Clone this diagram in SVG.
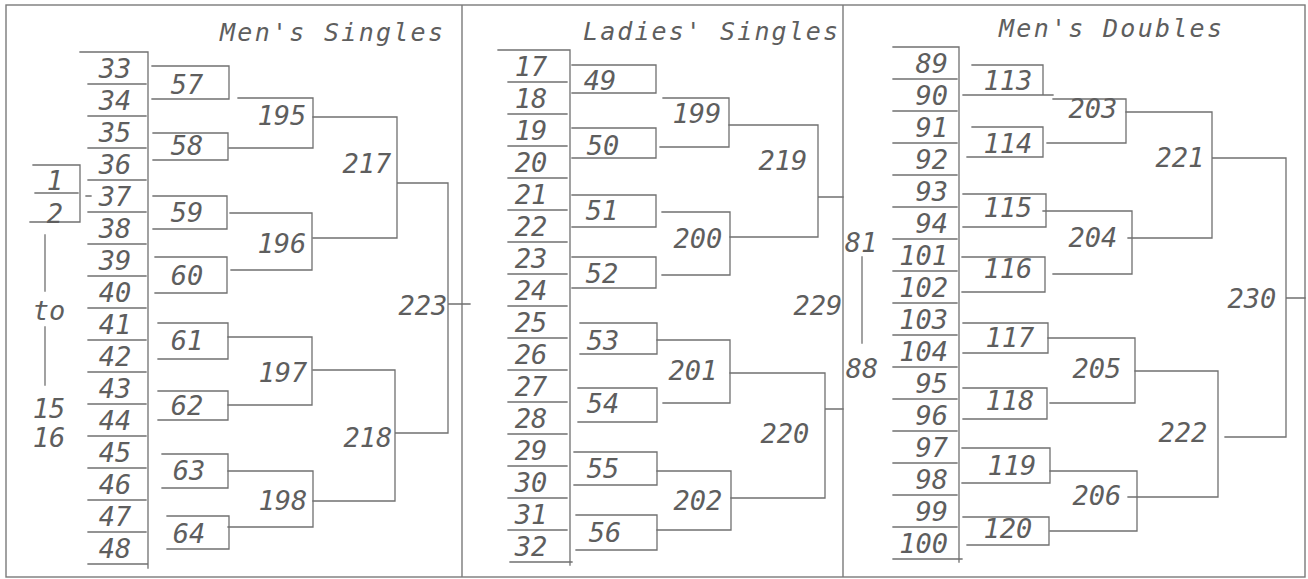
<svg xmlns="http://www.w3.org/2000/svg" width="1308" height="579" viewBox="0 0 1308 579">
<style>
.ln{stroke:#707070;stroke-width:1.3;fill:none;stroke-linecap:square}
.fr{stroke:#7a7a7a;stroke-width:1.4;fill:none}
.t{font-family:"DejaVu Sans Mono","Liberation Mono",monospace;font-style:oblique;font-size:27px;fill:#5e5e5e;text-anchor:middle}
.e{text-anchor:end}
.ttl{font-family:"DejaVu Sans Mono","Liberation Mono",monospace;font-style:oblique;font-size:25px;fill:#5e5e5e}
</style>
<rect width="1308" height="579" fill="#fff"/>
<g id="frame">
<rect class="fr" x="6" y="5" width="1299" height="572"/>
<line class="fr" x1="462" y1="5" x2="462" y2="577"/>
<line class="fr" x1="843" y1="5" x2="843" y2="577"/>
</g>
<g id="titles">
<text class="ttl" x="220" y="41" textLength="223" lengthAdjust="spacing">Men's Singles</text>
<text class="ttl" x="583" y="40" textLength="255" lengthAdjust="spacing">Ladies' Singles</text>
<text class="ttl" x="999" y="37" textLength="223" lengthAdjust="spacing">Men's Doubles</text>
</g>
<g id="connectors">
<path class="ln" d="M80 52H148 M88 84H146 M88 116H146 M88 148H146 M88 180H146 M88 212H146 M88 244H146 M88 276H146 M88 308H146 M88 340H146 M88 372H146 M88 404H146 M88 436H146 M88 468H146 M88 500H146 M88 532H146 M88 564H148 M148 52V568"/>
<path class="ln" d="M33 165H80V222H30 M35 193H78 M86 196H91 M45 235V291 M45 327V385"/>
<path class="ln" d="M152 66H229V99H152 M153 133H228V160H153 M153 196H227V229H153 M155 257H227V293H155 M158 323H228V359H158 M158 391H228V420H158 M162 454H228V488H162 M167 516H229V549H167"/>
<path class="ln" d="M238 98H313V148H229 M230 213H312V270H231 M228 337H312V405H228 M228 471H313V527H228"/>
<path class="ln" d="M313 117H397V238H313 M313 370H395V501H313 M397 183H448V433H395 M448 304H470"/>
<path class="ln" d="M498 50H570 M508 82H567 M508 114H567 M508 146H567 M508 178H567 M508 210H567 M508 242H567 M508 274H567 M508 306H567 M508 338H567 M508 370H567 M508 402H567 M508 434H567 M508 466H567 M508 498H567 M508 530H567 M510 562H572 M570 50V565"/>
<path class="ln" d="M572 65H656V93H572 M572 128H656V158H572 M572 195H656V227H572 M572 257H656V288H572 M580 323H657V354H580 M578 388H657V422H578 M574 452H657V485H574 M576 515H657V550H576"/>
<path class="ln" d="M663 98H729V147H660 M662 212H730V275H662 M657 340H730V403H663 M657 471H731V530H657"/>
<path class="ln" d="M729 125H818V237H730 M730 373H825V498H731 M818 197H843 M825 409H843"/>
<path class="ln" d="M862 257V343"/>
<path class="ln" d="M893 47H959 M893 79H957 M893 111H957 M893 143H957 M893 175H957 M893 207H957 M893 239H957 M893 271H957 M893 303H957 M893 335H957 M893 367H957 M893 399H957 M893 431H957 M893 463H957 M893 495H957 M893 527H957 M893 559H962 M959 47V562"/>
<path class="ln" d="M972 65H1043V95 M963 95H1053 M972 127H1043V157H967 M963 194H1046V227H963 M962 257H1045V292H962 M963 323H1048V353H963 M963 388H1047V419H963 M962 448H1050V483H962 M963 517H1049V545H967"/>
<path class="ln" d="M1053 99H1126V143H1047 M1043 211H1132V274H1053 M1048 338H1135V403H1050 M1050 471H1137V531H1050"/>
<path class="ln" d="M1126 112H1212V238H1128 M1135 371H1218V497H1128 M1212 158H1286V437H1225 M1286 298H1305"/>
</g>
<g id="left-note">
<text class="t" x="55" y="190">1</text>
<text class="t" x="55" y="223">2</text>
<text class="t" x="49" y="320">to</text>
<text class="t" x="49" y="418">15</text>
<text class="t" x="49" y="447">16</text>
</g>
<g id="ms-r1">
<text class="t" x="115" y="78">33</text>
<text class="t" x="115" y="110">34</text>
<text class="t" x="115" y="142">35</text>
<text class="t" x="115" y="174">36</text>
<text class="t" x="115" y="206">37</text>
<text class="t" x="115" y="238">38</text>
<text class="t" x="115" y="270">39</text>
<text class="t" x="115" y="302">40</text>
<text class="t" x="115" y="334">41</text>
<text class="t" x="115" y="366">42</text>
<text class="t" x="115" y="398">43</text>
<text class="t" x="115" y="430">44</text>
<text class="t" x="115" y="462">45</text>
<text class="t" x="115" y="494">46</text>
<text class="t" x="115" y="526">47</text>
<text class="t" x="115" y="558">48</text>
</g>
<g id="n57"><text class="t" x="187" y="94">57</text></g>
<g id="n58"><text class="t" x="187" y="155">58</text></g>
<g id="n59"><text class="t" x="187" y="222">59</text></g>
<g id="n60"><text class="t" x="187" y="285">60</text></g>
<g id="n61"><text class="t" x="187" y="350">61</text></g>
<g id="n62"><text class="t" x="187" y="415">62</text></g>
<g id="n63"><text class="t" x="189" y="480">63</text></g>
<g id="n64"><text class="t" x="189" y="543">64</text></g>
<g id="n195"><text class="t" x="282" y="125">195</text></g>
<g id="n196"><text class="t" x="282" y="253">196</text></g>
<g id="n197"><text class="t" x="283" y="382">197</text></g>
<g id="n198"><text class="t" x="283" y="510">198</text></g>
<g id="n217"><text class="t" x="367" y="173">217</text></g>
<g id="n218"><text class="t" x="368" y="447">218</text></g>
<g id="n223"><text class="t" x="423" y="315">223</text></g>
<g id="ls-r1">
<text class="t" x="531" y="76">17</text>
<text class="t" x="531" y="108">18</text>
<text class="t" x="531" y="140">19</text>
<text class="t" x="531" y="172">20</text>
<text class="t" x="531" y="204">21</text>
<text class="t" x="531" y="236">22</text>
<text class="t" x="531" y="268">23</text>
<text class="t" x="531" y="300">24</text>
<text class="t" x="531" y="332">25</text>
<text class="t" x="531" y="364">26</text>
<text class="t" x="531" y="396">27</text>
<text class="t" x="531" y="428">28</text>
<text class="t" x="531" y="460">29</text>
<text class="t" x="531" y="492">30</text>
<text class="t" x="531" y="524">31</text>
<text class="t" x="531" y="556">32</text>
</g>
<g id="n49"><text class="t" x="600" y="90">49</text></g>
<g id="n50"><text class="t" x="603" y="155">50</text></g>
<g id="n51"><text class="t" x="602" y="220">51</text></g>
<g id="n52"><text class="t" x="602" y="283">52</text></g>
<g id="n53"><text class="t" x="603" y="350">53</text></g>
<g id="n54"><text class="t" x="603" y="413">54</text></g>
<g id="n55"><text class="t" x="603" y="478">55</text></g>
<g id="n56"><text class="t" x="605" y="542">56</text></g>
<g id="n199"><text class="t" x="697" y="123">199</text></g>
<g id="n200"><text class="t" x="698" y="248">200</text></g>
<g id="n201"><text class="t" x="693" y="380">201</text></g>
<g id="n202"><text class="t" x="698" y="510">202</text></g>
<g id="n219"><text class="t" x="783" y="170">219</text></g>
<g id="n220"><text class="t" x="785" y="443">220</text></g>
<g id="n229"><text class="t" x="818" y="315">229</text></g>
<g id="n81"><text class="t" x="861" y="252">81</text></g>
<g id="n88"><text class="t" x="862" y="378">88</text></g>
<g id="md-r1">
<text class="t e" x="948" y="73">89</text>
<text class="t e" x="948" y="105">90</text>
<text class="t e" x="948" y="137">91</text>
<text class="t e" x="948" y="169">92</text>
<text class="t e" x="948" y="201">93</text>
<text class="t e" x="948" y="233">94</text>
<text class="t e" x="948" y="265">101</text>
<text class="t e" x="948" y="297">102</text>
<text class="t e" x="948" y="329">103</text>
<text class="t e" x="948" y="361">104</text>
<text class="t e" x="948" y="393">95</text>
<text class="t e" x="948" y="425">96</text>
<text class="t e" x="948" y="457">97</text>
<text class="t e" x="948" y="489">98</text>
<text class="t e" x="948" y="521">99</text>
<text class="t e" x="948" y="553">100</text>
</g>
<g id="n113"><text class="t" x="1008" y="90">113</text></g>
<g id="n114"><text class="t" x="1008" y="153">114</text></g>
<g id="n115"><text class="t" x="1008" y="217">115</text></g>
<g id="n116"><text class="t" x="1008" y="278">116</text></g>
<g id="n117"><text class="t" x="1010" y="347">117</text></g>
<g id="n118"><text class="t" x="1010" y="410">118</text></g>
<g id="n119"><text class="t" x="1012" y="475">119</text></g>
<g id="n120"><text class="t" x="1008" y="538">120</text></g>
<g id="n203"><text class="t" x="1093" y="118">203</text></g>
<g id="n204"><text class="t" x="1093" y="247">204</text></g>
<g id="n205"><text class="t" x="1097" y="378">205</text></g>
<g id="n206"><text class="t" x="1097" y="505">206</text></g>
<g id="n221"><text class="t" x="1180" y="167">221</text></g>
<g id="n222"><text class="t" x="1183" y="442">222</text></g>
<g id="n230"><text class="t" x="1252" y="308">230</text></g>
</svg>
